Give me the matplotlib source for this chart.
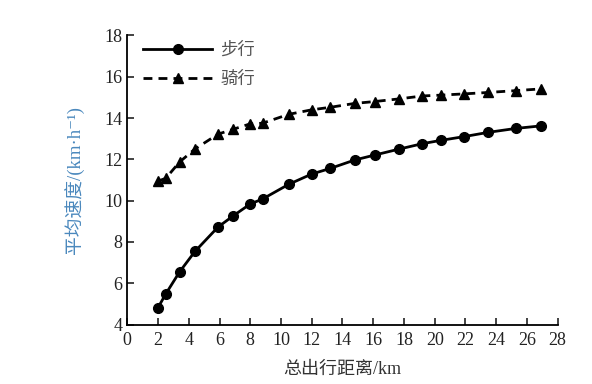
import numpy as np
import matplotlib
matplotlib.use("Agg")
from matplotlib import pyplot as plt

plt.rcParams['font.family'] = ['Liberation Serif', 'Noto Sans CJK SC', 'DejaVu Sans']

# 总出行距离 (km)
distance = [2.0, 2.5, 3.4, 4.4, 5.9, 6.9, 8.0, 8.8, 10.5, 12.0,
            13.2, 14.8, 16.1, 17.7, 19.2, 20.4, 21.9, 23.5, 25.3, 26.9]
# 步行 平均速度
walk = [4.82, 5.48, 6.55, 7.54, 8.72, 9.27, 9.84, 10.08, 10.79, 11.29,
        11.56, 11.97, 12.21, 12.50, 12.76, 12.92, 13.10, 13.31, 13.50, 13.62]
# 骑行 平均速度
ride = [10.95, 11.08, 11.87, 12.50, 13.22, 13.46, 13.72, 13.75, 14.18, 14.40,
        14.52, 14.71, 14.80, 14.93, 15.07, 15.11, 15.17, 15.24, 15.33, 15.41]

xticks = list(range(0, 29, 2))
yticks = list(range(4, 19, 2))

fig = plt.figure(figsize=(5.92, 3.84), dpi=100)
ax = fig.add_axes([0.215, 0.1547, 0.727, 0.753])

ax.plot(distance, walk, color='black', lw=2.0, marker='o', ms=7, label='步行')
ax.plot(distance, ride, color='black', lw=2.0, ls=(0, (3.2, 2.2)), marker='^', ms=7,
        label='骑行')

ax.set_xlim(0, 28)
ax.set_ylim(4, 18)
ax.set_xticks(xticks)
ax.set_yticks(yticks)
ax.tick_params(direction='in', length=5, width=1.2, labelsize=13, colors='#222222')
ax.tick_params(axis='x', pad=5)
ax.spines['top'].set_visible(False)
ax.spines['right'].set_visible(False)
ax.spines['left'].set_linewidth(1.3)
ax.spines['bottom'].set_linewidth(1.3)

ax.set_xlabel('总出行距离/km', fontsize=13, color='#333333', labelpad=9)
ax.set_ylabel('平均速度/(km·h⁻¹)', fontsize=13.5, color='#4a88bd', labelpad=14)

leg = ax.legend(loc='upper left', bbox_to_anchor=(0.02, 1.0), frameon=False,
                fontsize=12.5, handlelength=4.0, handletextpad=0.45,
                labelspacing=0.75, borderaxespad=0.0)
for t in leg.get_texts():
    t.set_color('#555555')

fig.savefig('out.png', dpi=100)
